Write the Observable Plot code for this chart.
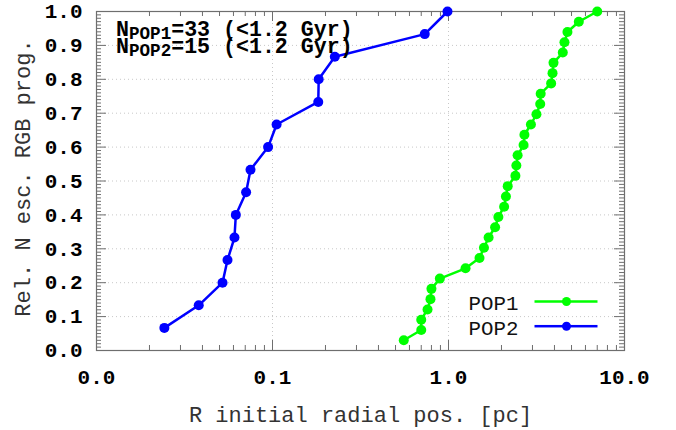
<!DOCTYPE html>
<html><head><meta charset="utf-8">
<script src="https://cdn.jsdelivr.net/npm/d3@7"></script>
<script src="https://cdn.jsdelivr.net/npm/@observablehq/plot@0.6"></script>
<style>body{margin:0;background:#fff}</style>
</head><body><div id="chart"></div>
<script>
// ---- data ----
const pop1R = [0.557, 0.70, 0.70, 0.76, 0.79, 0.80, 0.893, 1.25, 1.50, 1.59, 1.69, 1.84, 1.92, 2.07, 2.12, 2.17, 2.40, 2.43, 2.47, 2.67, 2.70, 2.94, 3.16, 3.32, 3.34, 3.83, 3.90, 3.95, 4.46, 4.56, 4.74, 5.50, 7.0];
const pop1F = [0.0303, 0.0606, 0.0909, 0.1212, 0.1515, 0.1818, 0.2121, 0.2424, 0.2727, 0.3030, 0.3333, 0.3636, 0.3939, 0.4242, 0.4545, 0.4848, 0.5152, 0.5455, 0.5758, 0.6061, 0.6364, 0.6667, 0.6970, 0.7273, 0.7576, 0.7879, 0.8182, 0.8485, 0.8788, 0.9091, 0.9394, 0.9697, 1.0];
const pop2R = [0.0243, 0.0381, 0.052, 0.0555, 0.0608, 0.0619, 0.0708, 0.075, 0.0944, 0.1055, 0.182, 0.183, 0.226, 0.733, 0.987];
const pop2F = [0.0667, 0.1333, 0.2, 0.2667, 0.3333, 0.4, 0.4667, 0.5333, 0.6, 0.6667, 0.7333, 0.8, 0.8667, 0.9333, 1.0];
const seriesNames = ["POP1", "POP2"];
const seriesCounts = [33, 15];
const ageLabel = "(<1.2 Gyr)";
const xTickValues = [0.01, 0.1, 1, 10];
const xTickLabels = ["0.0", "0.1", "1.0", "10.0"];
const yTickValues = [0, 0.1, 0.2, 0.3, 0.4, 0.5, 0.6, 0.7, 0.8, 0.9, 1.0];
const yTickLabels = ["0.0", "0.1", "0.2", "0.3", "0.4", "0.5", "0.6", "0.7", "0.8", "0.9", "1.0"];
const xTitle = "R initial radial pos. [pc]";
const yTitle = "Rel. N esc. RGB prog.";

// ---- layout / style ----
const W = 676, H = 430, mL = 96, mR = 52, mT = 11, mB = 80;
const iW = W - mL - mR, iH = H - mT - mB;
const colors = ["#00ff00", "#0000ff"];
const axisGray = "#6e6e6e";
const MONO = "Liberation Mono, Courier New, monospace";

const pop1 = pop1R.map((r, i) => ({r, f: pop1F[i]}));
const pop2 = pop2R.map((r, i) => ({r, f: pop2F[i]}));

const xMinor = [];
for (const dec of [0.01, 0.1, 1]) for (let k = 2; k <= 9; k++) xMinor.push(dec * k);
const yMinor = d3.range(1, 100).filter(i => i % 10).map(i => i / 100);
const xInner = xTickValues.slice(1, -1), yInner = yTickValues.slice(1, -1);

const fmtX = d => xTickLabels[xTickValues.indexOf(d)];
const fmtY = d => yTickLabels[yTickValues.indexOf(d)];

// annotation marks (N with subscript)
const fMain = 21.6, fSub = 17.6;
const annot = [];
seriesNames.forEach((name, i) => {
  const base = 35.7 + i * 16.6 - mT;
  const x0 = 19.5;
  const common = {frameAnchor: "top-left", lineAnchor: "bottom", textAnchor: "start", fontFamily: MONO, fontWeight: "bold", fill: "#000"};
  annot.push(Plot.text(["N"], {...common, text: d => d, dx: x0, dy: base, fontSize: fMain}));
  annot.push(Plot.text([name], {...common, text: d => d, dx: x0 + fMain * 0.6, dy: base + 3, fontSize: fSub}));
  annot.push(Plot.text([`=${seriesCounts[i]} ${ageLabel}`], {...common, text: d => d, dx: x0 + fMain * 0.6 + 4 * fSub * 0.6, dy: base, fontSize: fMain}));
});

// legend marks
const legend = [];
const legY = [301 - 350, 325.7 - 350];
seriesNames.forEach((name, i) => {
  legend.push(Plot.text([name], {frameAnchor: "bottom-right", text: d => d, dx: 518 - 624, dy: legY[i] + 2, textAnchor: "end", lineAnchor: "middle", fontSize: 20.8, fontFamily: MONO, fill: "#111"}));
  legend.push(Plot.frame({fill: colors[i], stroke: "none", insetLeft: 534 - mL, insetRight: 624 - 597, insetTop: iH + legY[i] - 1.25, insetBottom: -legY[i] - 1.25}));
  legend.push(Plot.dot([name], {frameAnchor: "bottom-right", dx: 566 - 624, dy: legY[i], r: 4.5, fill: colors[i], stroke: "none"}));
});

const chart = Plot.plot({
  width: W, height: H,
  marginLeft: mL, marginRight: mR, marginTop: mT, marginBottom: mB,
  style: {background: "#fff", fontFamily: MONO, overflow: "visible"},
  x: {type: "log", domain: [0.01, 10]},
  y: {domain: [0, 1]},
  marks: [
    Plot.gridX(xInner, {stroke: "#c8c8c8", strokeOpacity: 1, strokeDasharray: "1,3"}),
    Plot.gridY(yInner, {stroke: "#c8c8c8", strokeOpacity: 1, strokeDasharray: "1,3"}),
    // inward ticks
    Plot.tickX(xMinor, {x: d => d, insetTop: iH - 5, stroke: axisGray}),
    Plot.tickX(xMinor, {x: d => d, insetBottom: iH - 5, stroke: axisGray}),
    Plot.tickX(xTickValues, {x: d => d, insetTop: iH - 10, stroke: axisGray}),
    Plot.tickX(xTickValues, {x: d => d, insetBottom: iH - 10, stroke: axisGray}),
    Plot.tickY(yMinor, {y: d => d, insetRight: iW - 5, stroke: axisGray}),
    Plot.tickY(yMinor, {y: d => d, insetLeft: iW - 5, stroke: axisGray}),
    Plot.tickY(yTickValues, {y: d => d, insetRight: iW - 10, stroke: axisGray}),
    Plot.tickY(yTickValues, {y: d => d, insetLeft: iW - 10, stroke: axisGray}),
    Plot.frame({stroke: axisGray, strokeWidth: 1.2}),
    Plot.axisX(xTickValues, {tickSize: 0, tickPadding: 19, tickFormat: fmtX, fontSize: 21, fontWeight: "bold", fontFamily: MONO, label: null}),
    Plot.axisY(yTickValues, {tickSize: 0, tickPadding: 14, tickFormat: fmtY, fontSize: 21, fontWeight: "bold", fontFamily: MONO, label: null}),
    Plot.text([xTitle], {frameAnchor: "bottom", text: d => d, dy: 64, lineAnchor: "middle", fontSize: 22, fontFamily: MONO, fill: "#333"}),
    Plot.text([yTitle], {frameAnchor: "left", text: d => d, dx: -74, dy: -3, rotate: -90, lineAnchor: "middle", textAnchor: "middle", fontSize: 22, fontFamily: MONO, fill: "#333"}),
    // data
    Plot.line(pop1, {x: "r", y: "f", stroke: colors[0], strokeWidth: 2.5}),
    Plot.dot(pop1, {x: "r", y: "f", r: 5, fill: colors[0], stroke: "none"}),
    Plot.line(pop2, {x: "r", y: "f", stroke: colors[1], strokeWidth: 2.5}),
    Plot.dot(pop2, {x: "r", y: "f", r: 5, fill: colors[1], stroke: "none"}),
    ...annot,
    ...legend
  ]
});
document.getElementById("chart").appendChild(chart);
</script></body></html>
